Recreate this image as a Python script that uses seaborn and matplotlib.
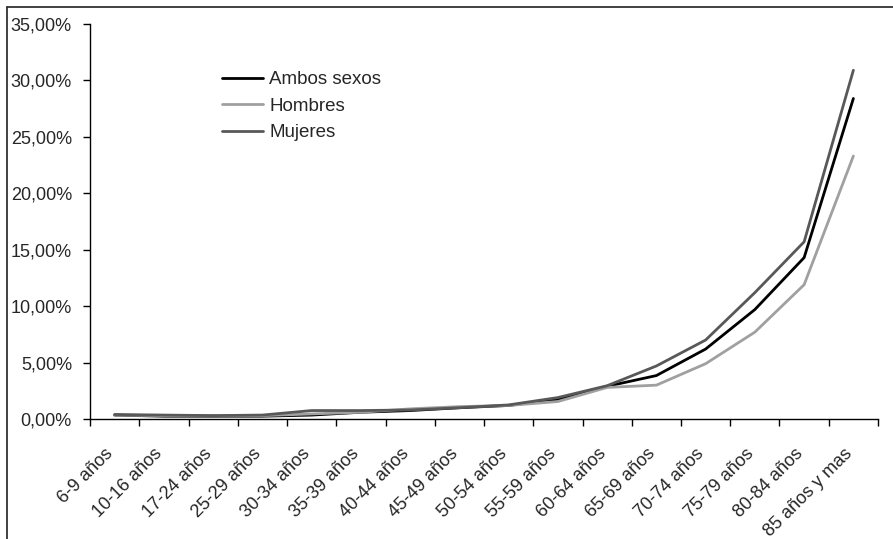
import pandas as pd
import matplotlib
matplotlib.use("Agg")
import matplotlib.pyplot as plt
import seaborn as sns
from matplotlib.lines import Line2D
from matplotlib.ticker import FuncFormatter
from matplotlib.transforms import ScaledTranslation

sns.set_theme(style="white")
plt.rcParams['font.family'] = ['Liberation Sans', 'DejaVu Sans']

# age groups and rates (%)
grupos = ['6-9 años', '10-16 años', '17-24 años', '25-29 años', '30-34 años',
          '35-39 años', '40-44 años', '45-49 años', '50-54 años', '55-59 años',
          '60-64 años', '65-69 años', '70-74 años', '75-79 años', '80-84 años',
          '85 años y mas']
ambos = [0.35, 0.25, 0.25, 0.25, 0.35, 0.6, 0.75, 1.0, 1.2, 1.75,
         2.9, 3.85, 6.2, 9.7, 14.3, 28.4]
hombres = [0.35, 0.3, 0.3, 0.3, 0.45, 0.6, 0.9, 1.1, 1.2, 1.55,
           2.8, 3.0, 4.9, 7.7, 11.9, 23.3]
mujeres = [0.4, 0.35, 0.3, 0.35, 0.75, 0.75, 0.8, 1.0, 1.25, 1.9,
           2.95, 4.7, 7.0, 11.2, 15.7, 30.9]
series = ['Ambos sexos', 'Hombres', 'Mujeres']
colores = ['#000000', '#a0a0a0', '#585858']

df = pd.DataFrame({'grupo': grupos * 3,
                   'serie': [s for s in series for _ in grupos],
                   'valor': ambos + hombres + mujeres})

fig = plt.figure(figsize=(8.93, 5.39), dpi=100)
ax = fig.add_axes([0.1008, 0.2226, 0.8824, 0.7329])

sns.lineplot(data=df, x='grupo', y='valor', hue='serie', hue_order=series,
             palette=colores, linewidth=2.0, legend=False, ax=ax, sort=False)

ax.set_xlim(-0.5, len(grupos) - 0.5)
ax.set_ylim(0, 35)
ax.set_yticks(range(0, 36, 5))
ax.yaxis.set_major_formatter(FuncFormatter(lambda v, p: f"{v:.2f}%".replace('.', ',')))
ax.set_xlabel('')
ax.set_ylabel('')

# ticks between categories, labels at centers
ax.set_xticks(range(len(grupos)))
ax.set_xticklabels(grupos, rotation=45, ha='right', rotation_mode='anchor',
                   va='top', fontsize=13)
ax.set_xticks([i - 0.5 for i in range(len(grupos) + 1)], minor=True)
ax.tick_params(axis='x', which='major', length=0, pad=19)
ax.tick_params(axis='x', which='minor', length=5, width=1, color='black',
               direction='out', bottom=True)
ax.tick_params(axis='y', length=5, width=1, color='black', direction='out',
               left=True, labelsize=13, pad=8)
shift = ScaledTranslation(-10 / 100, 0, fig.dpi_scale_trans)
for lbl in ax.get_xticklabels():
    lbl.set_transform(lbl.get_transform() + shift)

for side in ['top', 'right']:
    ax.spines[side].set_visible(False)
for side in ['left', 'bottom']:
    ax.spines[side].set_color('black')
    ax.spines[side].set_linewidth(1)

leg = ax.legend(ax.lines[:3], series, loc='upper left',
                bbox_to_anchor=(0.1675, 0.881), frameon=False, fontsize=13.5,
                handlelength=2.2, handletextpad=0.32, labelspacing=0.5,
                borderaxespad=0, borderpad=0)

# outer frame (top and left edges visible)
fig.add_artist(Line2D([7 / 893, 7 / 893], [0, 1 - 6.5 / 539], color='#333333', lw=1.3))
fig.add_artist(Line2D([7 / 893, 1], [1 - 6.5 / 539, 1 - 6.5 / 539], color='#333333', lw=1.3))

fig.savefig('out.png', dpi=100)
